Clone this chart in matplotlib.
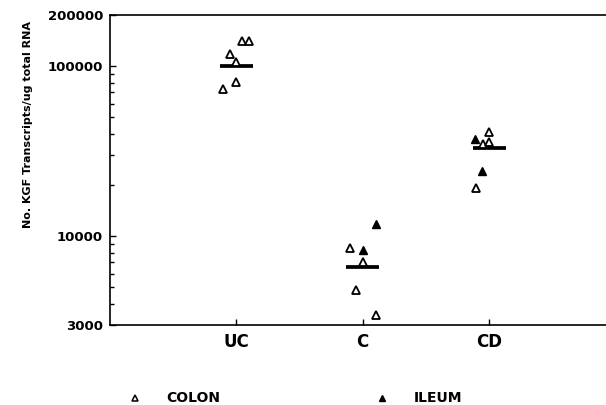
import matplotlib
matplotlib.use("Agg")
import matplotlib.pyplot as plt
from matplotlib.lines import Line2D
from matplotlib.ticker import FixedLocator, FixedFormatter, NullFormatter

plt.rcParams['font.family'] = ['DejaVu Sans']
plt.rcParams['font.weight'] = 'bold'

categories = ["UC", "C", "CD"]

# colon (open triangles)
colon_values = {
    "UC": [140000, 140000, 118700, 106000, 81000, 73100],
    "C": [8470, 7080, 4790, 3450],
    "CD": [41100, 34850, 35600, 19150],
}
colon_offsets = {
    "UC": [0.045, 0.097, -0.053, 0.0, 0.0, -0.103],
    "C": [-0.100, 0.0, -0.05, 0.103],
    "CD": [0.0, -0.05, 0.0, -0.105],
}
# ileum (filled triangles)
ileum_values = {
    "C": [11750, 8290],
    "CD": [37250, 24300],
}
ileum_offsets = {
    "C": [0.103, 0.0],
    "CD": [-0.11, -0.053],
}
group_means = [100000, 6610, 32840]

y_major = [3000, 10000, 100000, 200000]
y_major_labels = ["3000", "10000", "100000", "200000"]
y_minor = [4000, 5000, 6000, 7000, 8000, 9000,
           20000, 30000, 40000, 50000, 60000, 70000, 80000, 90000]

fig = plt.figure(figsize=(6.06, 4.05), dpi=100)
ax = fig.add_axes([110 / 606, 80 / 405, 1 - 110 / 606, 310 / 405])

for i, cat in enumerate(categories):
    xpos = i + 1
    if cat in colon_values:
        xs = [xpos + o for o in colon_offsets[cat]]
        ax.plot(xs, colon_values[cat], linestyle='none', marker='^', ms=6.2,
                mfc='white', mec='black', mew=1.3, zorder=3)
    if cat in ileum_values:
        xs = [xpos + o for o in ileum_offsets[cat]]
        ax.plot(xs, ileum_values[cat], linestyle='none', marker='^', ms=6.2,
                mfc='black', mec='black', mew=1.0, zorder=3)
    ax.hlines(group_means[i], xpos - 0.13, xpos + 0.13, colors='black',
              linewidth=2.7, zorder=2)

ax.set_yscale('log')
ax.set_ylim(3000, 200000)
ax.set_xlim(0, 3.925)

ax.yaxis.set_major_locator(FixedLocator(y_major))
ax.yaxis.set_major_formatter(FixedFormatter(y_major_labels))
ax.yaxis.set_minor_locator(FixedLocator(y_minor))
ax.yaxis.set_minor_formatter(NullFormatter())

ax.set_xticks([1, 2, 3])
ax.set_xticklabels(categories, fontsize=12, fontweight='bold')

ax.tick_params(axis='y', which='major', direction='in', length=4, width=1,
               pad=5, labelsize=9.5)
ax.tick_params(axis='y', which='minor', direction='in', length=3, width=1)
ax.tick_params(axis='x', which='major', direction='in', length=4, width=1,
               pad=6)
for lab in ax.get_yticklabels():
    lab.set_fontweight('bold')

ax.spines['right'].set_visible(False)
for s in ['left', 'bottom', 'top']:
    ax.spines[s].set_linewidth(1.2)

ax.set_ylabel("No. KGF Transcripts/ug total RNA", fontsize=8, fontweight='bold')
ax.yaxis.set_label_coords(-0.155, 0.647)

handles = [
    Line2D([], [], linestyle='none', marker='^', ms=4.5, mfc='white', mec='black', mew=1.1),
    Line2D([], [], linestyle='none', marker='^', ms=4.5, mfc='black', mec='black', mew=1.0),
]
fig.legend(handles, ["COLON", "ILEUM"], ncol=2, frameon=False,
           loc='center left', bbox_to_anchor=(128 / 606, 6.5 / 405),
           prop={'size': 10, 'weight': 'bold'},
           handlelength=1.0, handletextpad=1.73, columnspacing=11.2,
           borderpad=0, borderaxespad=0)

fig.savefig("out.png", dpi=100)
